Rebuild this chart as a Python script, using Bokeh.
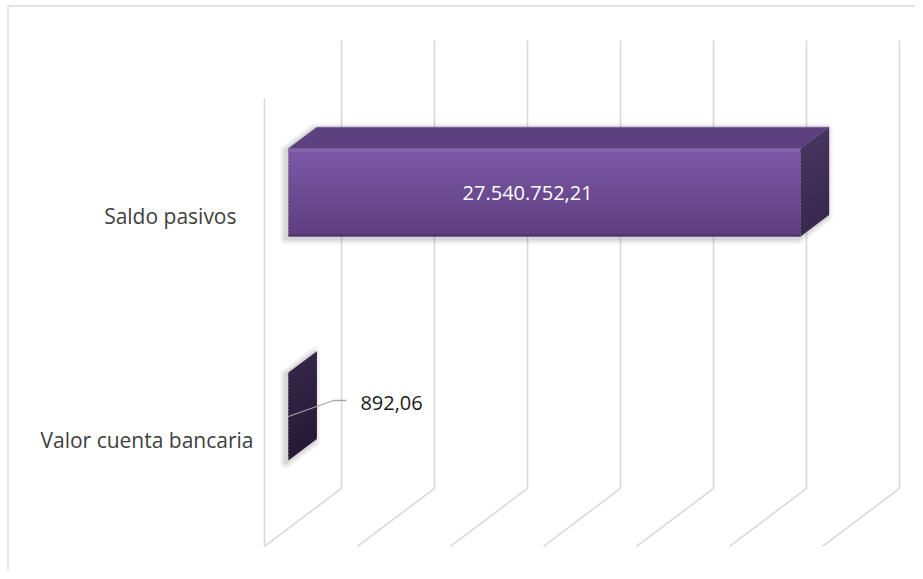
from bokeh.plotting import figure
from bokeh.models import Range1d
from bokeh.embed import file_html
from bokeh.resources import INLINE
from bokeh.core.properties import value as pv

# ---------------- data ----------------
categories = ["Valor cuenta bancaria", "Saldo pasivos"]
values = [892.06, 27540752.21]
value_labels = ["892,06", "27.540.752,21"]
tick_values = [0, 5e6, 10e6, 15e6, 20e6, 25e6, 30e6]

# ---------------- 3D projection settings ----------------
M = 1e6            # value unit (millions)
DX = 4.14          # x shift (value units) per unit of depth
DY = 0.259         # y shift (category units) per unit of depth
D1, D2 = 0.31, 0.68  # bar depth span
HALF = 0.196       # half bar thickness (category units)
FLOOR0 = -0.580    # floor at depth 0
WALL_TOP = 1.679   # back-wall top (depth 1)
PXU = 18.6         # px per value unit
PYU = 224.0        # px per category unit

X_START, X_END = -264 / PXU, (915 - 264) / PXU
Y_END, Y_START = 416 / PYU, (416 - 571) / PYU

FONT = "Open Sans"

p = figure(width=915, height=571, output_backend="svg", toolbar_location=None,
           x_range=Range1d(X_START, X_END), y_range=Range1d(Y_START, Y_END),
           min_border=0)
p.axis.visible = False
p.grid.visible = False
p.outline_line_color = None
p.background_fill_color = "white"

# outer border (left & top)
xl, yt = X_START + 7.5 / PXU, Y_END - 5.5 / PYU
p.multi_line([[xl, xl], [xl, X_END + 1]], [[Y_START - 1, yt], [yt, yt]],
             line_color="#d9d9d9", line_width=1.3)

# ---------------- walls / gridlines ----------------
gx, gy = [], []
for t in tick_values:
    u = t / M
    gx.append([u + DX, u + DX]); gy.append([FLOOR0 + DY, WALL_TOP])      # back wall
    gx.append([u + DX, u]); gy.append([FLOOR0 + DY, FLOOR0])              # floor
gx.append([0, 0]); gy.append([FLOOR0, WALL_TOP - DY])                      # front-left edge
p.multi_line(gx, gy, line_color="#d9d9d9", line_width=1.6)


def lerp(c1, c2, t):
    a = [int(c1[i:i + 2], 16) for i in (1, 3, 5)]
    b = [int(c2[i:i + 2], 16) for i in (1, 3, 5)]
    return "#%02x%02x%02x" % tuple(int(round(a[k] + (b[k] - a[k]) * t)) for k in range(3))


styles = {
    0: dict(front=("#7c59a7", "#5f3f80"), top="#5d4080", side=("#342646", "#271a36")),
    1: dict(front=("#7c59a7", "#5f3f80"), top="#5d4080", side=("#47345f", "#392950")),
}

ddx, ddy = DX * (D2 - D1), DY * (D2 - D1)
N = 24
for i, (cat, v) in enumerate(zip(categories, values)):
    st = styles[i]
    c = float(i)
    x0 = DX * D1
    x1 = v / M + DX * D1
    yb, ytop = c - HALF, c + HALF
    h = (ytop - yb) / N
    # silhouette for shadow / glow
    sx = [x0, x0, x0 + ddx, x1 + ddx, x1 + ddx, x1]
    sy = [yb, ytop, ytop + ddy, ytop + ddy, yb + ddy, yb]
    for w, a in ((12, 0.05), (8, 0.07), (4, 0.10)):
        shift = -2.5 / PXU
        p.patch([s + shift for s in sx], [s - 2 / PYU for s in sy], fill_color=None,
                line_color="#404040", line_alpha=a, line_width=w, line_join="round")
    p.patch(sx, sy, fill_color="white", line_color=None)
    # front face gradient
    if x1 - x0 > 1e-3:
        p.quad(left=[x0] * N, right=[x1] * N,
               bottom=[ytop - (k + 1) * h for k in range(N)],
               top=[ytop - k * h + (0.6 * h if k > 0 else 0) for k in range(N)],
               fill_color=[lerp(st["front"][0], st["front"][1], k / (N - 1)) for k in range(N)],
               line_color=None)
        # highlight at top edge and dark bottom edge
        p.segment(x0, ytop - 2 / PYU, x1, ytop - 2 / PYU, line_color="#8b68b6", line_width=2)
        p.segment(x0, yb + 1 / PYU, x1, yb + 1 / PYU, line_color="#4d346b", line_width=2)
        # top face
        p.patch([x0, x1, x1 + ddx, x0 + ddx], [ytop, ytop, ytop + ddy, ytop + ddy],
                fill_color=st["top"], line_color=st["top"], line_width=0.5)
    # side (end) face gradient
    xs, ys, cols = [], [], []
    for k in range(N):
        ya = ytop - k * h + (0.6 * h if k > 0 else 0)
        yb2 = ytop - (k + 1) * h
        xs.append([x1, x1 + ddx, x1 + ddx, x1])
        ys.append([ya, ya + ddy, yb2 + ddy, yb2])
        cols.append(lerp(st["side"][0], st["side"][1], k / (N - 1)))
    p.patches(xs, ys, fill_color=cols, line_color=None)

# ---------------- value labels ----------------
big = 1
p.text([DX * D1 + values[big] / M * 0.467], [big], text=[value_labels[big]],
       text_color="white", text_font=pv(FONT), text_font_size="20px",
       text_align="center", text_baseline="middle")
small = 0
xe = values[small] / M + DX * D1
lx = [xe, xe + 45 / PXU, xe + 58 / PXU]
ly = [small + 0.0, small + 16 / PYU, small + 16 / PYU]
p.line(lx, ly, line_color="#a6a6a6", line_width=1.3)
p.text([xe + 72 / PXU], [small + 14 / PYU], text=[value_labels[small]],
       text_color="#1a1a1a", text_font=pv(FONT), text_font_size="20px",
       text_align="left", text_baseline="middle")

# ---------------- category labels ----------------
for i, cat in enumerate(categories):
    p.text([-0.59 - 0.915 * i], [i - 0.105], text=[cat], text_color="#404040",
           text_font=pv(FONT), text_font_size="21px",
           text_align="right", text_baseline="middle")

open("out.html", "w").write(file_html(p, INLINE))
